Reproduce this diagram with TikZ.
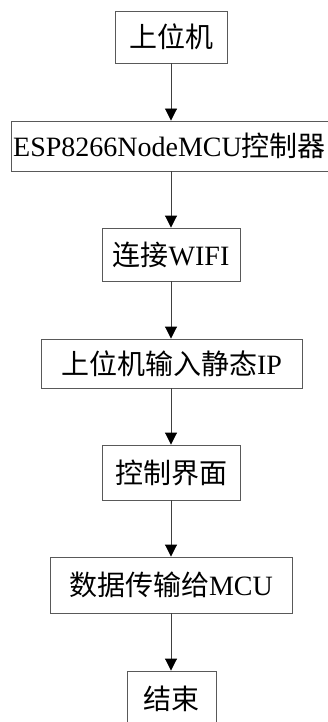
\documentclass[tikz,border=0pt]{standalone}
\usepackage{fontspec}
\setmainfont{Liberation Serif}
\newfontfamily\cjk{Noto Sans CJK SC}
\usetikzlibrary{arrows.meta}
\tikzset{
  box/.style={draw=black!65, line width=0.9pt, inner sep=0pt, font=\fontsize{28}{31}\selectfont},
  flow/.style={draw=black!75, line width=0.9pt, -{Triangle[width=12pt,length=12pt,color=black]}},
}
\begin{document}
\begin{tikzpicture}[x=1pt,y=1pt]
\useasboundingbox (0,0) rectangle (328,-722);
\clip (0,0) rectangle (328,-722);
\node[box, minimum width=112pt, minimum height=52pt] (n1) at (171,-37) {\cjk 上位机};
\node[box, minimum width=317pt, minimum height=50pt] (n2) at (169.5,-146) {ESP8266NodeMCU{\cjk 控制器}};
\node[box, minimum width=138pt, minimum height=53pt] (n3) at (171,-254.5) {{\cjk 连接}WIFI};
\node[box, minimum width=261pt, minimum height=49pt] (n4) at (171.5,-363.5) {{\cjk 上位机输入静态}IP};
\node[box, minimum width=138pt, minimum height=55pt] (n5) at (171,-472.5) {\cjk 控制界面};
\node[box, minimum width=242pt, minimum height=56pt] (n6) at (171,-585) {{\cjk 数据传输给}MCU};
\node[box, minimum width=89pt, minimum height=56pt] (n7) at (171.5,-699) {\cjk 结束};
\draw[flow] (n1.south -| 171,0) -- (n2.north -| 171,0);
\draw[flow] (n2.south -| 171,0) -- (n3.north -| 171,0);
\draw[flow] (n3.south -| 171,0) -- (n4.north -| 171,0);
\draw[flow] (n4.south -| 171,0) -- (n5.north -| 171,0);
\draw[flow] (n5.south -| 171,0) -- (n6.north -| 171,0);
\draw[flow] (n6.south -| 171,0) -- (n7.north -| 171,0);
\end{tikzpicture}
\end{document}
